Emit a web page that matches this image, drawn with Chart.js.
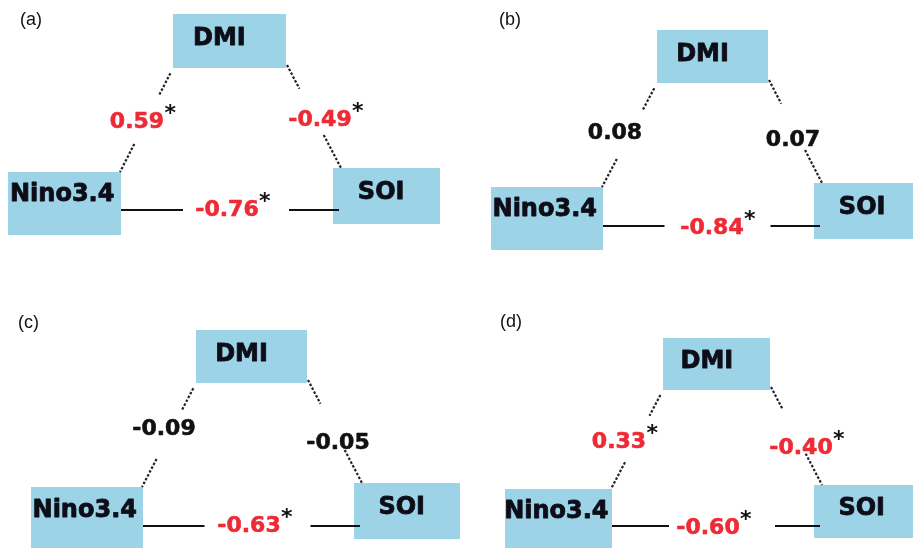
<!DOCTYPE html>
<html lang="en">
<head>
  <meta charset="UTF-8">
  <title>Correlation triangles</title>
  <style>
    body {
      margin: 0;
      padding: 0;
      background-color: #fff;
    }

    #chart-container {
      width: 913px;
      height: 548px;
    }
  </style>
  <script src="https://cdn.jsdelivr.net/npm/chart.js"></script>
</head>
<body>
  <div id="chart-container">
    <canvas id="triChart"></canvas>
  </div>

  <script>
    // Panel letters and node names
    const panelLetters = ['(a)', '(b)', '(c)', '(d)'];
    const nodeNames = ['DMI', 'Nino3.4', 'SOI'];

    // Correlation coefficients, one per panel
    const rNinoDmi = [0.59, 0.08, -0.09, 0.33];
    const rDmiSoi = [-0.49, 0.07, -0.05, -0.40];
    const rNinoSoi = [-0.76, -0.84, -0.63, -0.60];

    // Significance flags (*)
    const sigNinoDmi = [true, false, false, true];
    const sigDmiSoi = [true, false, false, true];
    const sigNinoSoi = [true, true, true, true];

    // Where things sit in each panel (data units = picture pixels)
    const layout = [
      { letter: [20, 20], dmi: [173, 14, 286, 68], nino: [8, 172, 121, 235], soi: [333, 168, 440, 224], lineY: 210, nd: [137, 120], ds: [320, 118], ns: [227, 208] },
      { letter: [499, 20], dmi: [657, 30, 768, 83], nino: [491, 187, 603, 250], soi: [814, 183, 921, 239], lineY: 226, nd: [615, 131], ds: [793, 138], ns: [712, 226] },
      { letter: [18, 323], dmi: [196, 330, 307, 383], nino: [31, 487, 143, 552], soi: [354, 483, 460, 539], lineY: 526, nd: [164, 427], ds: [338, 441], ns: [249, 524] },
      { letter: [500, 322], dmi: [663, 338, 770, 390], nino: [505, 489, 612, 552], soi: [814, 485, 920, 538], lineY: 526, nd: [619, 440], ds: [801, 446], ns: [708, 526] }
    ];

    const boxColor = '#9cd3e6';
    const redText = '#ee2a35';
    const darkText = '#111';

    const lerp = (a, b, t) => ({ x: a[0] + (b[0] - a[0]) * t, y: a[1] + (b[1] - a[1]) * t });

    // Build the connector segments from the box positions
    const datasets = [];
    layout.forEach((p) => {
      const lA = [p.dmi[0], p.dmi[3]];
      const lB = [p.nino[2] - 1, p.nino[1]];
      const rA = [p.dmi[2] + 1, p.dmi[3] - 3];
      const rB = [p.soi[0] + 8, p.soi[1]];
      const dashed = [
        [lerp(lA, lB, 0.05), lerp(lA, lB, 0.26)],
        [lerp(lA, lB, 0.73), lerp(lA, lB, 1.0)],
        [lerp(rA, rB, 0.0), lerp(rA, rB, 0.23)],
        [lerp(rA, rB, 0.68), lerp(rA, rB, 1.0)]
      ];
      dashed.forEach((seg) => {
        datasets.push({ data: seg, showLine: true, pointRadius: 0, borderColor: '#222', borderWidth: 2.2, borderDash: [2.5, 1.8] });
      });
      const mid = (p.nino[2] + p.soi[0]) / 2;
      datasets.push({ data: [{ x: p.nino[2], y: p.lineY }, { x: mid - 44, y: p.lineY }], showLine: true, pointRadius: 0, borderColor: darkText, borderWidth: 2 });
      datasets.push({ data: [{ x: mid + 62, y: p.lineY }, { x: p.soi[0] + 6, y: p.lineY }], showLine: true, pointRadius: 0, borderColor: darkText, borderWidth: 2 });
    });

    // draws text with a hairline stroke so it looks as heavy as the original
    const heavyText = (ctx, txt, px, py, color, stroke) => {
      ctx.fillStyle = color;
      ctx.strokeStyle = color;
      ctx.lineWidth = stroke;
      ctx.lineJoin = 'round';
      ctx.strokeText(txt, px, py);
      ctx.fillText(txt, px, py);
    };

    const diagramPlugin = {
      id: 'diagram',
      beforeDatasetsDraw(chart) {
        const { ctx, scales: { x, y } } = chart;
        ctx.save();
        ctx.fillStyle = boxColor;
        layout.forEach((p) => {
          [p.dmi, p.nino, p.soi].forEach((b) => {
            const x0 = x.getPixelForValue(b[0]);
            const y0 = y.getPixelForValue(b[1]);
            ctx.fillRect(x0, y0, x.getPixelForValue(b[2]) - x0, y.getPixelForValue(b[3]) - y0);
          });
        });
        ctx.restore();
      },
      afterDatasetsDraw(chart) {
        const { ctx, scales: { x, y } } = chart;
        ctx.save();
        const anchors = [[0.41, 0.42], [0.48, 0.33], [0.45, 0.40]];

        layout.forEach((p, i) => {
          // panel letter
          ctx.fillStyle = '#111';
          ctx.font = '18px "Liberation Sans", Arial, sans-serif';
          ctx.textAlign = 'left';
          ctx.textBaseline = 'middle';
          ctx.fillText(panelLetters[i], x.getPixelForValue(p.letter[0]), y.getPixelForValue(p.letter[1]));

          // node names
          ctx.font = 'bold 24px "DejaVu Sans", sans-serif';
          ctx.textAlign = 'center';
          ctx.textBaseline = 'alphabetic';
          [p.dmi, p.nino, p.soi].forEach((b, k) => {
            const cx = b[0] + (b[2] - b[0]) * anchors[k][0];
            const cy = b[1] + (b[3] - b[1]) * anchors[k][1];
            heavyText(ctx, nodeNames[k], x.getPixelForValue(cx), y.getPixelForValue(cy) + 24 * 0.36, '#0d0d18', 0.8);
          });

          // coefficients
          const items = [
            [rNinoDmi[i], sigNinoDmi[i], p.nd],
            [rDmiSoi[i], sigDmiSoi[i], p.ds],
            [rNinoSoi[i], sigNinoSoi[i], p.ns]
          ];
          items.forEach(([val, sig, pos]) => {
            const txt = val.toFixed(2);
            const px = x.getPixelForValue(pos[0]);
            const py = y.getPixelForValue(pos[1]);
            ctx.font = 'bold 22px "DejaVu Sans", sans-serif';
            ctx.textAlign = 'center';
            ctx.textBaseline = 'alphabetic';
            heavyText(ctx, txt, px, py + 23 * 0.36, sig ? redText : darkText, 0.6);
            if (sig) {
              const w = ctx.measureText(txt).width;
              ctx.font = 'bold 22px "DejaVu Sans", sans-serif';
              ctx.fillStyle = '#111';
              ctx.fillText('*', px + w / 2 + 6, py - 12 + 22 * 0.55);
            }
          });
        });
        ctx.restore();
      }
    };

    const ctx = document.getElementById('triChart').getContext('2d');
    const triChart = new Chart(ctx, {
      type: 'scatter',
      data: { datasets: datasets },
      options: {
        responsive: true,
        maintainAspectRatio: false,
        animation: false,
        events: [],
        layout: { padding: 0 },
        plugins: { legend: { display: false }, tooltip: { enabled: false } },
        scales: {
          x: { type: 'linear', min: 0, max: 913, display: false },
          y: { type: 'linear', min: 0, max: 548, reverse: true, display: false }
        }
      },
      plugins: [diagramPlugin]
    });
  </script>
</body>
</html>
